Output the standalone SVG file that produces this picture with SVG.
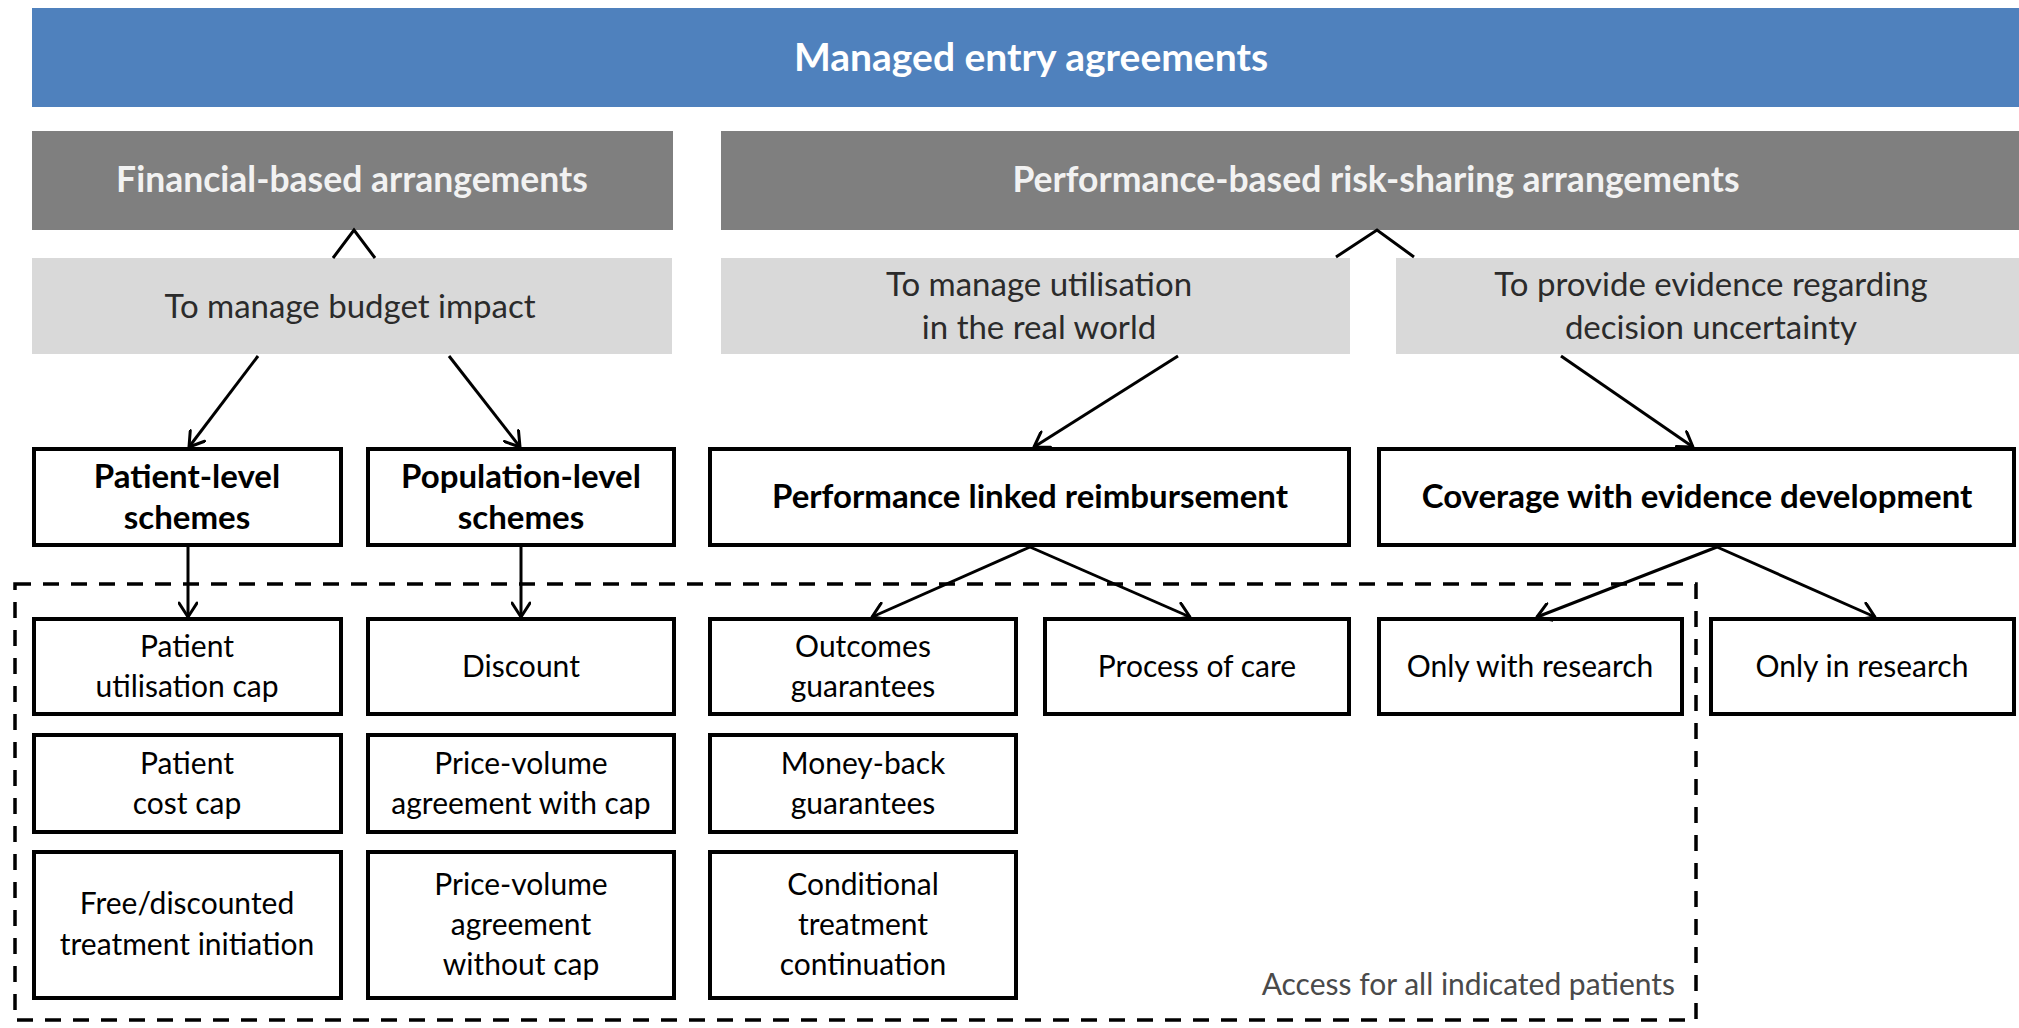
<svg xmlns="http://www.w3.org/2000/svg" width="2019" height="1028" viewBox="0 0 2019 1028">
  <defs>
    <marker id="arr" viewBox="0 0 20 20" refX="18" refY="10" markerWidth="20" markerHeight="20" markerUnits="userSpaceOnUse" orient="auto">
      <path d="M4,1 L18,10 L4,19" fill="none" stroke="#000" stroke-width="3" stroke-linecap="round" stroke-linejoin="round"/>
    </marker>
  </defs>
  <style>
    text { font-family: Lato, "Liberation Sans", sans-serif; text-anchor: middle; }
    .title { font-size: 39px; font-weight: bold; fill: #FFFFFF; }
    .hdr { font-size: 35.5px; font-weight: bold; fill: #F2F2F2; }
    .goal { font-size: 33px; fill: #2B2B2B; }
    .l2 { font-size: 33px; font-weight: bold; fill: #000; }
    .l3 { font-size: 30px; fill: #000; }
    .note { font-size: 30px; fill: #4A4A4A; text-anchor: end; }
    .box { fill: #FFFFFF; stroke: #000; stroke-width: 4; }
    .conn { fill: none; stroke: #000; stroke-width: 3; }
  </style>
  <rect width="2019" height="1028" fill="#FFFFFF"/>

  <g id="managed-entry-agreements">
    <rect x="32" y="8" width="1987" height="99" fill="#4F81BD"/>
    <text class="title" x="1031" y="71">Managed entry agreements</text>
  </g>

  <g id="financial-based">
    <rect x="32" y="131" width="641" height="99" fill="#7F7F7F"/>
    <text class="hdr" x="352" y="192">Financial-based arrangements</text>
  </g>
  <g id="performance-based">
    <rect x="721" y="131" width="1298" height="99" fill="#7F7F7F"/>
    <text class="hdr" x="1376" y="192">Performance-based risk-sharing arrangements</text>
  </g>

  <g id="budget-impact">
    <rect x="32" y="258" width="640" height="96" fill="#D9D9D9"/>
    <text class="goal" x="350" y="318">To manage budget impact</text>
  </g>
  <g id="utilisation">
    <rect x="721" y="258" width="629" height="96" fill="#D9D9D9"/>
    <text class="goal" x="1039" y="296">To manage utilisation</text>
    <text class="goal" x="1039" y="339">in the real world</text>
  </g>
  <g id="evidence">
    <rect x="1396" y="258" width="623" height="96" fill="#D9D9D9"/>
    <text class="goal" x="1711" y="296">To provide evidence regarding</text>
    <text class="goal" x="1711" y="339">decision uncertainty</text>
  </g>

  <g id="patient-level">
    <rect class="box" x="34" y="449" width="307" height="96"/>
    <text class="l2" x="187" y="488">Patient-level</text>
    <text class="l2" x="187" y="529">schemes</text>
  </g>
  <g id="population-level">
    <rect class="box" x="368" y="449" width="306" height="96"/>
    <text class="l2" x="521" y="488">Population-level</text>
    <text class="l2" x="521" y="529">schemes</text>
  </g>
  <g id="performance-linked">
    <rect class="box" x="710" y="449" width="639" height="96"/>
    <text class="l2" x="1030" y="508">Performance linked reimbursement</text>
  </g>
  <g id="coverage">
    <rect class="box" x="1379" y="449" width="635" height="96"/>
    <text class="l2" x="1697" y="508">Coverage with evidence development</text>
  </g>

  <g id="patient-utilisation-cap">
    <rect class="box" x="34" y="619" width="307" height="95"/>
    <text class="l3" x="187" y="657">Patient</text>
    <text class="l3" x="187" y="697">utilisation cap</text>
  </g>
  <g id="discount">
    <rect class="box" x="368" y="619" width="306" height="95"/>
    <text class="l3" x="521" y="677">Discount</text>
  </g>
  <g id="outcomes-guarantees">
    <rect class="box" x="710" y="619" width="306" height="95"/>
    <text class="l3" x="863" y="657">Outcomes</text>
    <text class="l3" x="863" y="697">guarantees</text>
  </g>
  <g id="process-of-care">
    <rect class="box" x="1045" y="619" width="304" height="95"/>
    <text class="l3" x="1197" y="677">Process of care</text>
  </g>
  <g id="only-with-research">
    <rect class="box" x="1379" y="619" width="303" height="95"/>
    <text class="l3" x="1530" y="677">Only with research</text>
  </g>
  <g id="only-in-research">
    <rect class="box" x="1711" y="619" width="303" height="95"/>
    <text class="l3" x="1862" y="677">Only in research</text>
  </g>

  <g id="patient-cost-cap">
    <rect class="box" x="34" y="735" width="307" height="97"/>
    <text class="l3" x="187" y="774">Patient</text>
    <text class="l3" x="187" y="814">cost cap</text>
  </g>
  <g id="pva-with-cap">
    <rect class="box" x="368" y="735" width="306" height="97"/>
    <text class="l3" x="521" y="774">Price-volume</text>
    <text class="l3" x="521" y="814">agreement with cap</text>
  </g>
  <g id="money-back">
    <rect class="box" x="710" y="735" width="306" height="97"/>
    <text class="l3" x="863" y="774">Money-back</text>
    <text class="l3" x="863" y="814">guarantees</text>
  </g>

  <g id="free-discounted">
    <rect class="box" x="34" y="852" width="307" height="146"/>
    <text class="l3" x="187" y="914">Free/discounted</text>
    <text class="l3" x="187" y="955">treatment initiation</text>
  </g>
  <g id="pva-without-cap">
    <rect class="box" x="368" y="852" width="306" height="146"/>
    <text class="l3" x="521" y="895">Price-volume</text>
    <text class="l3" x="521" y="935">agreement</text>
    <text class="l3" x="521" y="975">without cap</text>
  </g>
  <g id="conditional-continuation">
    <rect class="box" x="710" y="852" width="306" height="146"/>
    <text class="l3" x="863" y="895">Conditional</text>
    <text class="l3" x="863" y="935">treatment</text>
    <text class="l3" x="863" y="975">continuation</text>
  </g>

  <g id="access-region">
    <rect x="15" y="584" width="1681" height="436" fill="none" stroke="#000" stroke-width="3.5" stroke-dasharray="16 12"/>
    <text class="note" x="1675" y="995">Access for all indicated patients</text>
  </g>

  <g id="connectors">
    <polyline class="conn" points="333,258 354,230 375,258"/>
    <polyline class="conn" points="1336,257 1377,230 1414,257"/>
    <line class="conn" x1="258" y1="356" x2="189" y2="447" marker-end="url(#arr)"/>
    <line class="conn" x1="449" y1="356" x2="520" y2="447" marker-end="url(#arr)"/>
    <line class="conn" x1="1178" y1="356" x2="1034" y2="447" marker-end="url(#arr)"/>
    <line class="conn" x1="1561" y1="356" x2="1693" y2="447" marker-end="url(#arr)"/>
    <line class="conn" x1="188" y1="547" x2="188" y2="617" marker-end="url(#arr)"/>
    <line class="conn" x1="521" y1="547" x2="521" y2="617" marker-end="url(#arr)"/>
    <line class="conn" x1="1030" y1="547" x2="872" y2="617" marker-end="url(#arr)"/>
    <line class="conn" x1="1030" y1="547" x2="1190" y2="617" marker-end="url(#arr)"/>
    <line class="conn" x1="1717" y1="547" x2="1537" y2="617" marker-end="url(#arr)"/>
    <line class="conn" x1="1717" y1="547" x2="1875" y2="617" marker-end="url(#arr)"/>
  </g>
</svg>
